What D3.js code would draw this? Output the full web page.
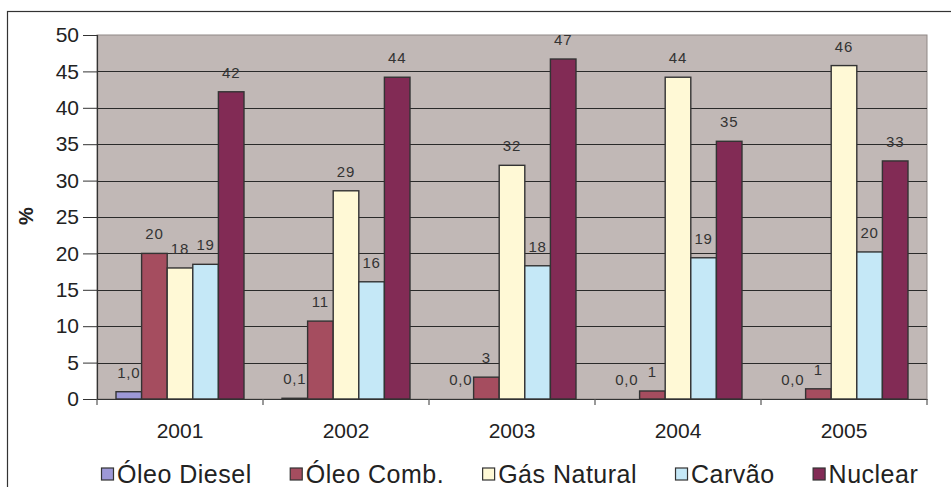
<!DOCTYPE html>
<html>
<head>
<meta charset="utf-8">
<script src="https://cdn.jsdelivr.net/npm/d3@7"></script>
<style>
  html, body { margin: 0; padding: 0; background: #fff; }
  svg { display: block; font-family: "Liberation Sans", Arial, sans-serif; }
</style>
</head>
<body>
<svg id="chart" width="951" height="487"></svg>
<script>
// Participação das fontes (%) por ano
const years = ["2001", "2002", "2003", "2004", "2005"];
const seriesNames = ["Óleo Diesel", "Óleo Comb.", "Gás Natural", "Carvão", "Nuclear"];
const oleoDiesel = [1.0, 0.1, 0.0, 0.0, 0.0];
const oleoComb   = [20.0, 10.7, 3.0, 1.1, 1.4];
const gasNatural = [18.0, 28.6, 32.1, 44.2, 45.8];
const carvao     = [18.5, 16.1, 18.3, 19.4, 20.2];
const nuclear    = [42.2, 44.2, 46.7, 35.4, 32.7];
const yTicks = [0, 5, 10, 15, 20, 25, 30, 35, 40, 45, 50];

const seriesValues = [oleoDiesel, oleoComb, gasNatural, carvao, nuclear];
const colors = ["#9d98d6", "#a54d5f", "#fff9d6", "#c5e8f7", "#822b55"];

const svg = d3.select("#chart");
const plot = { left: 97, top: 35, right: 927, bottom: 399 };

// outer chart frame
svg.append("rect")
  .attr("x", 7.5).attr("y", 11.5)
  .attr("width", 960).attr("height", 500)
  .attr("fill", "#fff").attr("stroke", "#333").attr("stroke-width", 1.2);

const x0 = d3.scaleBand().domain(years)
  .range([plot.left, plot.right])
  .paddingInner(0.229).paddingOuter(0.1145);
const x1 = d3.scaleBand().domain(seriesNames).range([0, x0.bandwidth()]);
const y = d3.scaleLinear().domain([0, 50]).range([plot.bottom, plot.top]);

// plot area background
svg.append("rect")
  .attr("x", plot.left).attr("y", plot.top)
  .attr("width", plot.right - plot.left).attr("height", plot.bottom - plot.top)
  .attr("fill", "#c1b8b6").attr("stroke", "#8f8886").attr("stroke-width", 1);

// gridlines
svg.append("g").selectAll("line")
  .data(yTicks.filter(t => t > 0 && t < 50))
  .join("line")
  .attr("x1", plot.left).attr("x2", plot.right)
  .attr("y1", d => Math.round(y(d)) + 0.5).attr("y2", d => Math.round(y(d)) + 0.5)
  .attr("stroke", "#2a2a2a").attr("stroke-width", 1);

// y axis
const yAxis = svg.append("g")
  .attr("transform", `translate(${plot.left},0)`)
  .call(d3.axisLeft(y).tickValues(yTicks).tickSize(14).tickPadding(4).tickFormat(d3.format("d")));
yAxis.select(".domain").attr("stroke", "#333").attr("stroke-width", 1.2);
yAxis.selectAll(".tick line").attr("stroke", "#333");
yAxis.selectAll(".tick text")
  .attr("font-size", 21).attr("fill", "#222")
  .attr("font-family", "Liberation Sans, Arial, sans-serif");

// x axis
const xAxis = svg.append("g")
  .attr("transform", `translate(0,${plot.bottom})`)
  .call(d3.axisBottom(x0).tickSize(0).tickPadding(24));
xAxis.select(".domain").attr("stroke", "#333").attr("stroke-width", 1.2);
xAxis.selectAll(".tick text")
  .attr("font-size", 21).attr("fill", "#222")
  .attr("font-family", "Liberation Sans, Arial, sans-serif");
// category boundary ticks
const bounds = years.map(d => x0(d) - x0.step() * x0.paddingOuter()).concat([plot.right]);
svg.append("g").selectAll("line").data(bounds).join("line")
  .attr("x1", d => d).attr("x2", d => d)
  .attr("y1", plot.bottom).attr("y2", plot.bottom + 6)
  .attr("stroke", "#555").attr("stroke-width", 1.2);

// bars
const fmtInt = d3.format(".0f");
const fmtDec = v => d3.format(".1f")(v).replace(".", ",");
const groups = svg.append("g").selectAll("g")
  .data(years)
  .join("g")
  .attr("transform", d => `translate(${x0(d)},0)`);

groups.selectAll("rect")
  .data((d, i) => seriesNames.map((s, j) => ({ s, j, v: seriesValues[j][i] })))
  .join("rect")
  .attr("x", d => x1(d.s))
  .attr("y", d => y(d.v))
  .attr("width", x1.bandwidth())
  .attr("height", d => y(0) - y(d.v))
  .attr("fill", d => colors[d.j])
  .attr("stroke", "#333").attr("stroke-width", 1.4);

groups.selectAll("text")
  .data((d, i) => seriesNames.map((s, j) => ({ s, j, v: seriesValues[j][i] })))
  .join("text")
  .attr("x", d => x1(d.s) + x1.bandwidth() / 2)
  .attr("y", d => y(d.v) - 14)
  .attr("text-anchor", "middle")
  .attr("font-size", 15).attr("letter-spacing", 0.8)
  .attr("fill", "#333")
  .text(d => d.j === 0 ? fmtDec(d.v) : fmtInt(d.v));

// y axis title
svg.append("text")
  .attr("transform", "translate(33,216) rotate(-90)")
  .attr("text-anchor", "middle")
  .attr("font-size", 20).attr("font-weight", "bold").attr("fill", "#222")
  .text("%");

// legend
const legend = svg.append("g").attr("transform", "translate(101,474)");
let lx = 0;
seriesNames.forEach((name, j) => {
  const item = legend.append("g").attr("transform", `translate(${lx},0)`);
  item.append("rect")
    .attr("x", 0.5).attr("y", -6).attr("width", 12).attr("height", 12)
    .attr("fill", colors[j]).attr("stroke", "#333").attr("stroke-width", 1.2);
  const t = item.append("text")
    .attr("x", 16).attr("y", 8.5)
    .attr("font-size", 25).attr("letter-spacing", 0.5).attr("fill", "#222")
    .text(name);
  lx += 16 + t.node().getComputedTextLength() + 38;
});
</script>
</body>
</html>
